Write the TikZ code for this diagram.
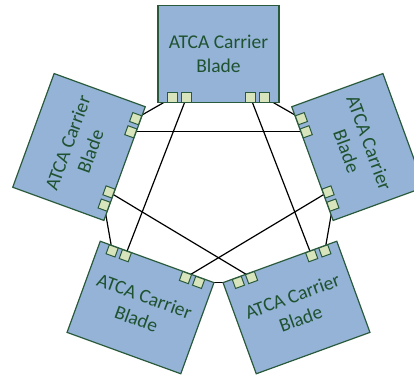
\documentclass[tikz,border=0pt]{standalone}
\usepackage{fontspec}
\setmainfont{Carlito}
\usetikzlibrary{backgrounds}
\definecolor{bladefill}{HTML}{95B3D7}
\definecolor{bladeedge}{HTML}{2A5A3C}
\definecolor{bladetext}{HTML}{1E5230}
\definecolor{portfill}{HTML}{D8E4BC}
\tikzset{
  blade/.style={draw=bladeedge, fill=bladefill, line width=1.2pt,
    minimum width=121pt, minimum height=97pt, inner sep=0pt, align=center,
    text=bladetext, font=\fontsize{19.5}{24}\selectfont},
  port/.style={draw=bladeedge, fill=portfill, line width=1pt,
    minimum size=9.5pt, inner sep=0pt},
  link/.style={line width=1.2pt, black}
}
% one carrier blade with its four ports along the edge facing the ring centre
\newcommand\bladeunit[4]{%
  \begin{scope}[shift={#2}, rotate=#3, transform shape]
    \node[blade] (#1) at (0,0) {ATCA Carrier\\Blade};
    \foreach \i/\px in {1/-46,2/-32,3/32,4/46}
      \node[port] (#1\i) at (\px,#4) {};
  \end{scope}}
\begin{document}
\begin{tikzpicture}[x=1pt, y=1pt]
  \useasboundingbox (0,0) rectangle (414,376);
  \bladeunit{T}{(218.5,322)}{0}{-43.5}
  \bladeunit{L}{(79,229)}{70}{-43.5}
  \bladeunit{R}{(358,229)}{-70}{-43.5}
  \bladeunit{C}{(140.5,68.5)}{-20}{43.5}
  \bladeunit{D}{(296.5,68.5)}{20}{43.5}
  % full mesh backplane links, kept behind the blades
  \begin{scope}[on background layer]
    \fill[white] (0,0) rectangle (414,376);
    \draw[link] (T1.center) -- (L4.center);
    \draw[link] (T2.center) -- (C2.center);
    \draw[link] (T3.center) -- (D3.center);
    \draw[link] (T4.center) -- (R1.center);
    \draw[link] (L3.center) -- (R2.center);
    \draw[link] (L2.center) -- (D2.center);
    \draw[link] (L1.center) -- (C1.center);
    \draw[link] (R3.center) -- (C3.center);
    \draw[link] (R4.center) -- (D4.center);
    \draw[link] (C4.center) -- (D1.center);
  \end{scope}
\end{tikzpicture}
\end{document}
